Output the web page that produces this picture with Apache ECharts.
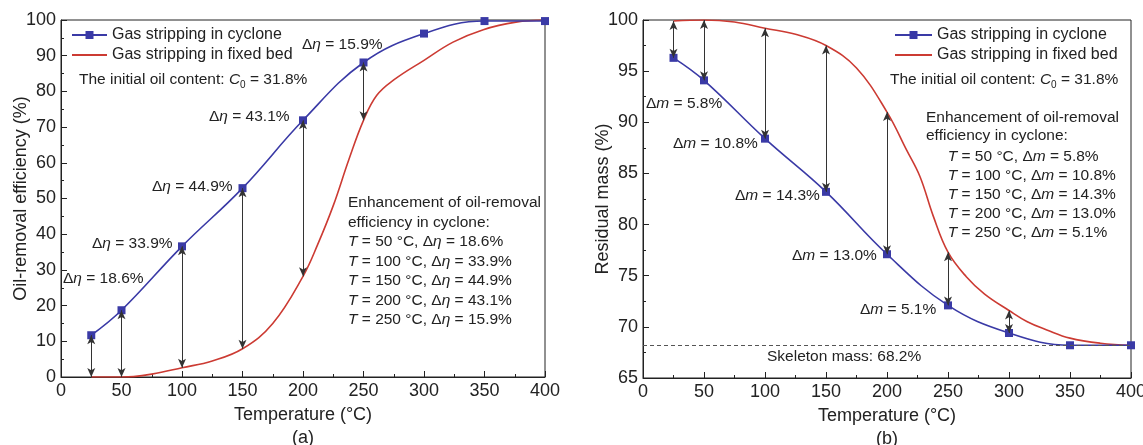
<!DOCTYPE html>
<html><head><meta charset="utf-8">
<script src="https://cdn.jsdelivr.net/npm/echarts@6/dist/echarts.min.js"></script>
<style>html,body{margin:0;padding:0;background:#fff}#c{width:1143px;height:445px}</style>
</head><body><div id="c"></div><script>
// ---------- data ----------
const temps = [25, 50, 100, 150, 200, 250, 300, 350, 400];
const effCyclone = [11.7, 18.7, 36.6, 52.9, 71.9, 88.1, 96.2, 99.7, 99.7];
const effFixedT = [25, 50, 60, 75, 100, 125, 150, 175, 200, 212, 225, 238, 250, 261, 275, 300, 324, 349, 376, 400];
const effFixed  = [0, 0, 0.1, 0.8, 2.6, 4.5, 7.9, 15, 28.2, 37, 48, 61, 71.9, 78.9, 83.2, 88.7, 93.8, 97.3, 99.4, 100];
const effArrowT = [25, 50, 100, 150, 200, 250];

const massCyclone = [96.3, 94.1, 88.4, 83.2, 77.1, 72.1, 69.4, 68.2, 68.2];
const massFixedT = [25, 50, 75, 100, 125, 150, 175, 200, 216, 227, 238, 250, 265, 280, 300, 315, 331, 350, 375, 400];
const massFixed  = [99.9, 100, 99.8, 99.2, 98.6, 97.5, 95.3, 91.0, 87.3, 84.7, 80.8, 77.3, 74.9, 73.2, 71.6, 70.5, 69.7, 68.9, 68.4, 68.2];
const massArrowT = [25, 50, 100, 150, 200, 250, 300];
const skeletonMass = 68.2;

const xTicks = {min: 0, max: 400, interval: 50};
const effTicks = {min: 0, max: 100, interval: 10};
const massTicks = {min: 65, max: 100, interval: 5};

const nameCyc = 'Gas stripping in cyclone';
const nameFix = 'Gas stripping in fixed bed';

// ---------- style ----------
const FONT = "'Liberation Sans', Arial, sans-serif";
const INK = '#222';
const BLUE = '#3a3aa6';
const RED = '#cc3b33';
const SMOOTH = 0.4;

function pairs(xs, ys) { return xs.map((x, i) => [x, ys[i]]); }
function arrows(xs, ys, fx, fy, at) {
  return at.map(t => [{coord: [t, ys[xs.indexOf(t)]]}, {coord: [t, fy[fx.indexOf(t)]]}]);
}

function xAxis(gi, label) {
  return {
    type: 'value', gridIndex: gi, min: xTicks.min, max: xTicks.max, interval: xTicks.interval,
    name: 'Temperature (°C)\n' + label, nameLocation: 'middle', nameGap: 26.5, nameMoveOverlap: false,
    nameTextStyle: {fontSize: 18, color: INK, fontFamily: FONT, lineHeight: 22.7},
    axisLine: {lineStyle: {color: INK, width: 1}},
    axisTick: {inside: true, length: 6, lineStyle: {color: INK}},
    minorTick: {show: true, splitNumber: 2, length: 3, lineStyle: {color: INK}},
    axisLabel: {fontSize: 18, color: INK, fontFamily: FONT, margin: 5},
    splitLine: {show: false}, minorSplitLine: {show: false}
  };
}
function yAxis(gi, name, tk) {
  return {
    type: 'value', gridIndex: gi, min: tk.min, max: tk.max, interval: tk.interval,
    name: name, nameLocation: 'middle', nameGap: 31, nameMoveOverlap: false,
    nameTextStyle: {fontSize: 18, color: INK, fontFamily: FONT},
    axisLine: {show: true, lineStyle: {color: INK, width: 1}},
    axisTick: {show: true, inside: true, length: 6, lineStyle: {color: INK}},
    minorTick: {show: true, splitNumber: 2, length: 3, lineStyle: {color: INK}},
    axisLabel: {fontSize: 18, color: INK, fontFamily: FONT, margin: 5},
    splitLine: {show: false}, minorSplitLine: {show: false}
  };
}
const arrowLine = (data) => ({
  silent: true, symbol: ['arrow', 'arrow'], symbolSize: [6, 9],
  lineStyle: {color: '#333', width: 1, type: 'solid'},
  label: {show: false}, emphasis: {disabled: true}, animation: false, data: data
});

const base = {fontSize: 15.5, fontFamily: FONT, fill: INK};
const rich = {
  n: {fontSize: 15.5, fontFamily: FONT, color: INK, lineHeight: 20},
  i: {fontSize: 15.5, fontFamily: FONT, color: INK, fontStyle: 'italic', lineHeight: 20},
  s: {fontSize: 10, fontFamily: FONT, color: INK, lineHeight: 6, verticalAlign: 'bottom'}
};
function richLH(lh) {
  return {
    n: Object.assign({}, rich.n, {lineHeight: lh}),
    i: Object.assign({}, rich.i, {lineHeight: lh}),
    s: rich.s
  };
}
function label(x, y, txt) {
  return {type: 'text', x: x, y: y, silent: true,
    style: Object.assign({}, base, {text: txt, rich: rich, align: 'left', verticalAlign: 'middle',
      textAlign: 'left', textVerticalAlign: 'middle'})};
}
function block(x, yTop, lh, lines) {
  const r = richLH(lh);
  return {type: 'text', x: x, y: yTop, silent: true,
    style: Object.assign({}, base, {text: lines.join('\n'), rich: r, lineHeight: lh, align: 'left',
      verticalAlign: 'top', textAlign: 'left', textVerticalAlign: 'top'})};
}
const D_eta = 'Δ{i|η}';
const D_m = 'Δ{i|m}';
const c0 = '{n|The initial oil content: }{i|C}{s|0}{n| = 31.8%}';

const legendData = [{name: nameCyc}, {name: nameFix, itemStyle: {opacity: 0, borderWidth: 0}}];
const legendBase = {top: 25, orient: 'vertical', padding: 0, itemGap: 0, itemHeight: 10,
  selectedMode: false, data: legendData,
  textStyle: {fontSize: 16, fontFamily: FONT, color: INK, lineHeight: 20}};

const option = {
  animation: false,
  backgroundColor: '#fff',
  grid: [
    {left: 61, top: 20, width: 484, height: 357, show: true, borderColor: INK, borderWidth: 1, outerBoundsMode: 'none', containLabel: false},
    {left: 643, top: 20, width: 488, height: 358, show: true, borderColor: INK, borderWidth: 1, outerBoundsMode: 'none', containLabel: false}
  ],
  xAxis: [xAxis(0, '(a)'), xAxis(1, '(b)')],
  yAxis: [yAxis(0, 'Oil-removal efficiency (%)', effTicks), yAxis(1, 'Residual mass (%)', massTicks)],
  legend: [
    Object.assign({}, legendBase, {left: 71, itemWidth: 35}),
    Object.assign({}, legendBase, {left: 894, itemWidth: 37})
  ],
  series: [
    {name: nameFix, type: 'line', xAxisIndex: 0, yAxisIndex: 0, data: pairs(effFixedT, effFixed),
     smooth: SMOOTH, showSymbol: false, symbol: 'none',
     lineStyle: {color: RED, width: 1.6}, itemStyle: {color: RED}, z: 2},
    {name: nameCyc, type: 'line', xAxisIndex: 0, yAxisIndex: 0, data: pairs(temps, effCyclone),
     smooth: SMOOTH, symbol: 'rect', symbolSize: 8,
     lineStyle: {color: BLUE, width: 1.6}, itemStyle: {color: BLUE}, z: 3,
     markLine: arrowLine(arrows(temps, effCyclone, effFixedT, effFixed, effArrowT))},
    {name: nameFix, type: 'line', xAxisIndex: 1, yAxisIndex: 1, data: pairs(massFixedT, massFixed),
     smooth: SMOOTH, showSymbol: false, symbol: 'none',
     lineStyle: {color: RED, width: 1.6}, itemStyle: {color: RED}, z: 2,
     markLine: {silent: true, symbol: ['none', 'none'], label: {show: false}, animation: false,
       lineStyle: {color: '#555', width: 1, type: [4, 3]}, emphasis: {disabled: true},
       data: [{yAxis: skeletonMass}]}},
    {name: nameCyc, type: 'line', xAxisIndex: 1, yAxisIndex: 1, data: pairs(temps, massCyclone),
     smooth: SMOOTH, symbol: 'rect', symbolSize: 8,
     lineStyle: {color: BLUE, width: 1.6}, itemStyle: {color: BLUE}, z: 3,
     markLine: arrowLine(arrows(temps, massCyclone, massFixedT, massFixed, massArrowT))}
  ],
  graphic: [
    label(79, 80, c0),
    label(302, 44.3, D_eta + ' = 15.9%'),
    label(209, 116.7, D_eta + ' = 43.1%'),
    label(152, 186.7, D_eta + ' = 44.9%'),
    label(92, 244, D_eta + ' = 33.9%'),
    label(63, 278.3, D_eta + ' = 18.6%'),
    block(348, 193, 19.55, [
      'Enhancement of oil-removal',
      'efficiency in cyclone:',
      '{i|T} = 50 °C, ' + D_eta + ' = 18.6%',
      '{i|T} = 100 °C, ' + D_eta + ' = 33.9%',
      '{i|T} = 150 °C, ' + D_eta + ' = 44.9%',
      '{i|T} = 200 °C, ' + D_eta + ' = 43.1%',
      '{i|T} = 250 °C, ' + D_eta + ' = 15.9%'
    ]),
    label(890, 80, c0),
    block(926, 108, 18.7, ['Enhancement of oil-removal', 'efficiency in cyclone:']),
    block(947.7, 147.2, 19, [
      '{i|T} = 50 °C, ' + D_m + ' = 5.8%',
      '{i|T} = 100 °C, ' + D_m + ' = 10.8%',
      '{i|T} = 150 °C, ' + D_m + ' = 14.3%',
      '{i|T} = 200 °C, ' + D_m + ' = 13.0%',
      '{i|T} = 250 °C, ' + D_m + ' = 5.1%'
    ]),
    label(646, 104, D_m + ' = 5.8%'),
    label(673, 144, D_m + ' = 10.8%'),
    label(735, 195.7, D_m + ' = 14.3%'),
    label(792, 256, D_m + ' = 13.0%'),
    label(860, 309.3, D_m + ' = 5.1%'),
    label(767, 356.7, 'Skeleton mass: 68.2%')
  ]
};
const chart = echarts.init(document.getElementById('c'));
chart.setOption(option);
</script></body></html>
